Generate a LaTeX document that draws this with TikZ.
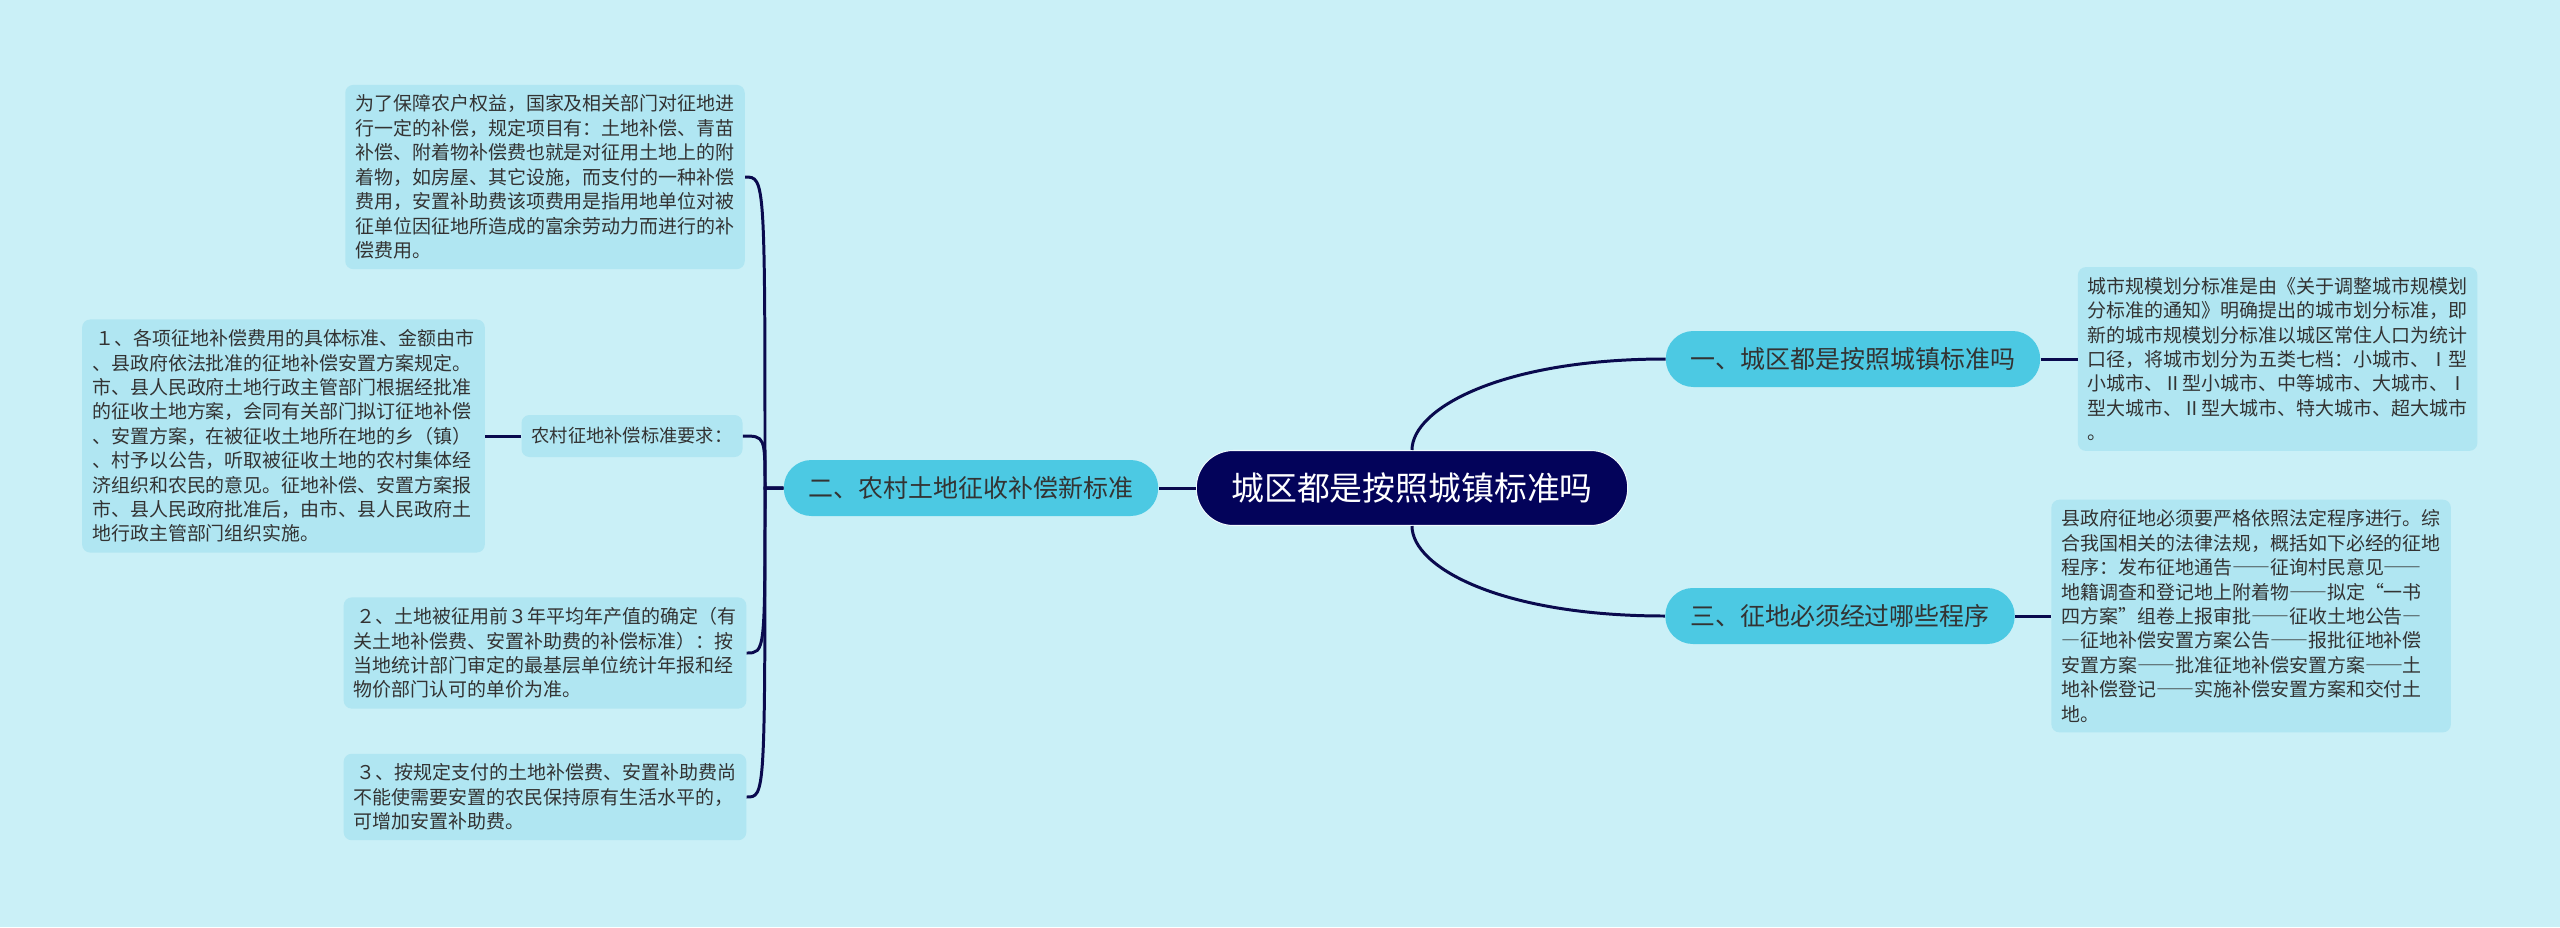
\documentclass[tikz,border=0pt]{standalone}
\usepackage{fontspec}
\setmainfont{Noto Sans CJK SC}
\newfontfamily\fwfont[RawFeature=+fwid]{Noto Sans CJK SC}
\newcommand\emd{{\fwfont —}}
\usepackage{tikz}
\usetikzlibrary{positioning}

\definecolor{bgcol}{HTML}{CAF0F7}
\definecolor{leafcol}{HTML}{B0E6F2}
\definecolor{branchcol}{HTML}{4CC9E3}
\definecolor{rootcol}{HTML}{03035A}
\definecolor{linecol}{HTML}{0A0A4E}
\definecolor{txtcol}{HTML}{333333}

\begin{document}
\begin{tikzpicture}[
    x=0.02cm, y=-0.02cm,
    leaf/.style={fill=leafcol, rounded corners=0.16cm, align=left, text=txtcol,
        inner xsep=0.2cm, inner ysep=0.2cm, font=\fontsize{10.8pt}{13.9pt}\selectfont},
    subbranch/.style={fill=leafcol, rounded corners=0.16cm, text=txtcol,
        inner xsep=0.2cm, minimum height=0.84cm, font=\fontsize{10.4pt}{12pt}\selectfont},
    branch/.style={fill=branchcol, rounded corners=0.55cm, text=txtcol,
        inner xsep=0.5cm, minimum height=1.12cm, font=\fontsize{14.2pt}{16pt}\selectfont},
    rootnode/.style={fill=rootcol, draw=white!70!bgcol, line width=0.6pt, rounded corners=0.74cm,
        text=white, inner xsep=0.7cm, minimum height=1.5cm, font=\fontsize{18.7pt}{20pt}\selectfont},
    link/.style={draw=linecol, line width=1.7pt}
]
\useasboundingbox[fill=bgcol] (0,0) rectangle (2560,927);

\node[rootnode] (root) at (1412,488) {城区都是按照城镇标准吗};
\node[branch] (b1) at (1853,359) {一、城区都是按照城镇标准吗};
\node[branch] (b3) at (1840,616) {三、征地必须经过哪些程序};
\node[branch] (b2) at (971,488) {二、农村土地征收补偿新标准};

% right side
\node[leaf, right=0.74cm of b1] (r1) {城市规模划分标准是由《关于调整城市规模划\\
分标准的通知》明确提出的城市划分标准，即\\
新的城市规模划分标准以城区常住人口为统计\\
口径，将城市划分为五类七档：小城市、Ⅰ型\\
小城市、Ⅱ型小城市、中等城市、大城市、Ⅰ\\
型大城市、Ⅱ型大城市、特大城市、超大城市\\
。};
\node[leaf, right=0.72cm of b3] (r3) {县政府征地必须要严格依照法定程序进行。综\\
合我国相关的法律法规，概括如下必经的征地\\
程序：发布征地通告\emd\emd 征询村民意见\emd\emd\\
地籍调查和登记地上附着物\emd\emd 拟定“一书\\
四方案”组卷上报审批\emd\emd 征收土地公告\emd\\
\emd 征地补偿安置方案公告\emd\emd 报批征地补偿\\
安置方案\emd\emd 批准征地补偿安置方案\emd\emd 土\\
地补偿登记\emd\emd 实施补偿安置方案和交付土\\
地。};

% left side
\node[leaf] (lt) at (545,177) {为了保障农户权益，国家及相关部门对征地进\\
行一定的补偿，规定项目有：土地补偿、青苗\\
补偿、附着物补偿费也就是对征用土地上的附\\
着物，如房屋、其它设施，而支付的一种补偿\\
费用，安置补助费该项费用是指用地单位对被\\
征单位因征地所造成的富余劳动力而进行的补\\
偿费用。};
\node[subbranch] (sub) at (632,436) {农村征地补偿标准要求：};
\node[leaf, left=0.72cm of sub] (l1) {\,１、各项征地补偿费用的具体标准、金额由市\\
、县政府依法批准的征地补偿安置方案规定。\\
市、县人民政府土地行政主管部门根据经批准\\
的征收土地方案，会同有关部门拟订征地补偿\\
、安置方案，在被征收土地所在地的乡（镇）\\
、村予以公告，听取被征收土地的农村集体经\\
济组织和农民的意见。征地补偿、安置方案报\\
市、县人民政府批准后，由市、县人民政府土\\
地行政主管部门组织实施。};
\node[leaf] (l2) at (545,653) {\,２、土地被征用前３年平均年产值的确定（有\\
关土地补偿费、安置补助费的补偿标准）：按\\
当地统计部门审定的最基层单位统计年报和经\\
物价部门认可的单价为准。};
\node[leaf] (l3) at (545,797) {\,３、按规定支付的土地补偿费、安置补助费尚\\
不能使需要安置的农民保持原有生活水平的，\\
可增加安置补助费。};

% connectors
\draw[link] (root.west) -- (b2.east);
\draw[link] (root.north) .. controls +(0,-41) and +(-165,0) .. (b1.west);
\draw[link] (root.south) .. controls +(0,41) and +(-165,0) .. (b3.west);
\draw[link] (b1.east) -- (r1.west);
\draw[link] (b3.east) -- (r3.west);
\coordinate (bk) at (765,488);
\foreach \n in {lt,sub,l2,l3}
  \draw[link] (b2.west) -- (bk) .. controls (bk |- \n.east) and (bk |- \n.east) .. (\n.east);
\draw[link] (sub.west) -- (sub.west -| l1.east);
\end{tikzpicture}
\end{document}
